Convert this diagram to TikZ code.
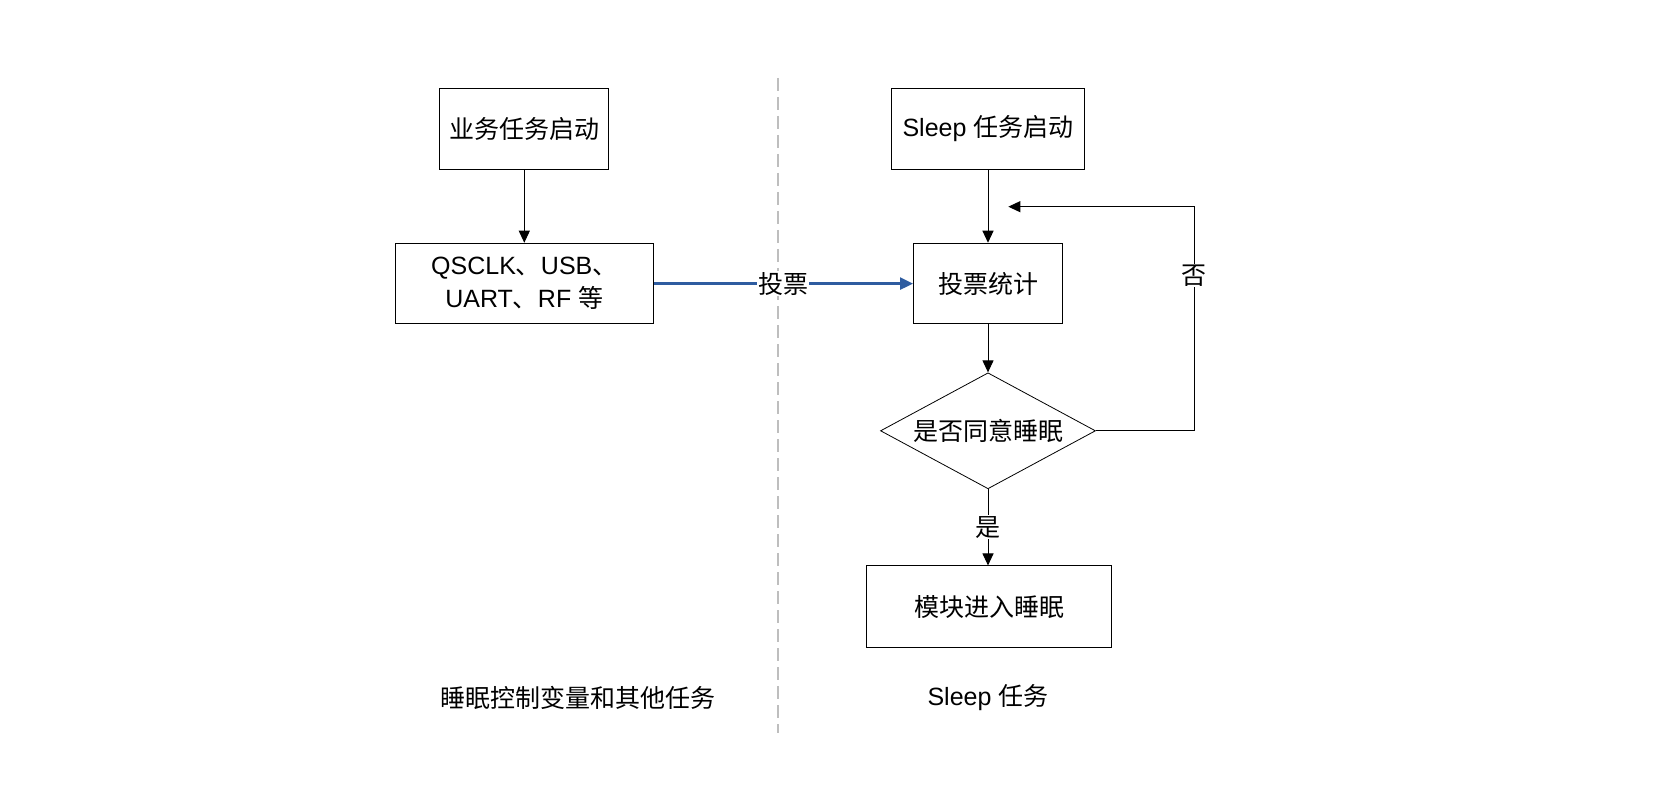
\documentclass[tikz,border=0pt]{standalone}
\usepackage{fontspec}
\setmainfont{Liberation Sans}
\newfontfamily\cjk{Noto Sans CJK SC}
\usetikzlibrary{shapes.geometric,arrows.meta}
\definecolor{flowblue}{RGB}{46,92,160}
\definecolor{divgray}{RGB}{190,190,190}
\tikzset{
  procbox/.style={draw=black, line width=1pt, minimum width=#1, inner sep=0pt, align=center, font=\fontsize{25}{33}\selectfont},
  decbox/.style={draw=black, line width=0.8pt, diamond, aspect=1.86, minimum width=215pt, minimum height=116pt, inner sep=0pt, font=\fontsize{25}{33}\selectfont},
  flow/.style={draw=black, line width=1pt, -{Triangle[length=12pt,width=11pt]}},
  voteflow/.style={draw=flowblue, line width=2.6pt, -{Triangle[length=13pt,width=12pt]}},
  lbl/.style={fill=white, inner sep=1pt, font=\fontsize{25}{28}\selectfont},
  caption/.style={font=\fontsize{25}{28}\selectfont},
  divider/.style={draw=divgray, line width=2pt, dash pattern=on 13pt off 6pt},
}
\begin{document}
\begin{tikzpicture}[x=1pt,y=-1pt]
\useasboundingbox (0,0) rectangle (1654,786);
% divider
\coordinate (dtop) at (777.7,78);
\coordinate (dbot) at (777.7,733);
\draw[divider] (dtop) -- (dbot);
% left column
\node[procbox=168.7pt, minimum height=81pt] (b1) at (524.3,128.8) {\cjk 业务任务启动};
\node[procbox=258.3pt, minimum height=80.7pt] (b2) at (524.3,283.6) {QSCLK{\cjk 、}USB{\cjk 、}\\ UART{\cjk 、}RF {\cjk 等}};
% right column
\node[procbox=193.6pt, minimum height=81pt] (b3) at (988,128.8) {Sleep {\cjk 任务启动}};
\node[procbox=149pt, minimum height=80.7pt] (b4) at (988,283.6) {\cjk 投票统计};
\node[decbox] (d1) at (988,430.8) {\cjk 是否同意睡眠};
\node[procbox=245pt, minimum height=81.3pt] (b5) at (989.2,606.6) {\cjk 模块进入睡眠};
% captions
\node[caption] (c1) at (578,698) {\cjk 睡眠控制变量和其他任务};
\node[caption] (c2) at (988,698) {Sleep {\cjk 任务}};
% connectors
\draw[flow] (b1) -- (b2);
\draw[flow] (b3) -- (b4);
\draw[flow] (b4) -- (d1);
\draw[flow] (d1.south) -- node[lbl] {\cjk 是} (b5.north -| d1.south);
\draw[voteflow] (b2) -- node[lbl, pos=0.5] {\cjk 投票} (b4);
\coordinate (r1) at (1194.3,430.8);
\coordinate (r2) at (1194.3,206.7);
\coordinate (r3) at (1008.3,206.7);
\draw[flow] (d1.east) -- (r1) -- node[lbl, pos=0.693] {\cjk 否} (r2) -- (r3);
\end{tikzpicture}
\end{document}
